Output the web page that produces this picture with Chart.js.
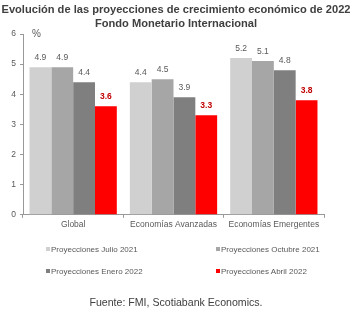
<!DOCTYPE html>
<html>
<head>
<meta charset="utf-8">
<script src="https://cdn.jsdelivr.net/npm/chart.js@4/dist/chart.umd.min.js"></script>
<style>
  body { margin: 0; background: #fff; font-family: "Liberation Sans", Arial, sans-serif; }
  #wrap { position: relative; width: 350px; height: 321px; overflow: hidden; }
  #chart { position: absolute; left: 0; top: 0; }
  #titulo { position: absolute; left: -25px; top: 2px; width: 402px; text-align: center; white-space: nowrap; font-size: 11.1px; font-weight: bold; color: #404040; line-height: 14px; }
  #legend { position: absolute; left: 0; top: 245px; width: 350px; font-size: 8px; color: #595959; }
  .item { position: absolute; white-space: nowrap; }
  .item i { display: inline-block; width: 4px; height: 4px; margin-right: 1px; vertical-align: 1px; }
  #fuente { position: absolute; left: 0; width: 352px; top: 296px; text-align: center; font-size: 10.6px; color: #404040; }
</style>
</head>
<body>
<div id="wrap">
  <canvas id="chart" width="350" height="321"></canvas>
  <div id="titulo">Evolución de las proyecciones de crecimiento económico de 2022<br>Fondo Monetario Internacional</div>
  <div id="legend"></div>
  <div id="fuente">Fuente: FMI, Scotiabank Economics.</div>
</div>
<script>
// datos
const categorias = ['Global', 'Economías Avanzadas', 'Economías Emergentes'];
const series = ['Proyecciones Julio 2021', 'Proyecciones Octubre 2021', 'Proyecciones Enero 2022', 'Proyecciones Abril 2022'];
const julio2021 = [4.9, 4.4, 5.2];
const octubre2021 = [4.9, 4.5, 5.1];
const enero2022 = [4.4, 3.9, 4.8];
const abril2022 = [3.6, 3.3, 3.8];
const colores = ['#d0d0d0', '#a6a6a6', '#7f7f7f', '#ff0000'];

// etiquetas sobre las barras
const etiquetas = {
    id: 'etiquetas',
    afterDatasetsDraw(chart) {
        const ctx = chart.ctx;
        ctx.save();
        ctx.textAlign = 'center';
        ctx.textBaseline = 'bottom';
        chart.data.datasets.forEach((ds, i) => {
            const meta = chart.getDatasetMeta(i);
            const rojo = i === 3;
            ctx.fillStyle = rojo ? '#c00000' : '#595959';
            ctx.font = (rojo ? 'bold ' : '') + '8.5px "Liberation Sans", Arial';
            meta.data.forEach((bar, j) => {
                ctx.fillText(ds.data[j].toFixed(1), bar.x, bar.y - 5);
            });
        });
        // símbolo de porcentaje
        const y = chart.scales.y;
        ctx.fillStyle = '#595959';
        ctx.font = '10px "Liberation Sans", Arial';
        ctx.textAlign = 'left';
        ctx.textBaseline = 'middle';
        ctx.fillText('%', chart.chartArea.left + 9, y.getPixelForValue(6));
        ctx.restore();
    }
};

const ctx = document.getElementById('chart').getContext('2d');
const chart = new Chart(ctx, {
    type: 'bar',
    data: {
        labels: categorias,
        datasets: [julio2021, octubre2021, enero2022, abril2022].map((d, i) => ({
            label: series[i],
            data: d,
            backgroundColor: colores[i],
            barPercentage: 1,
            categoryPercentage: 0.87
        }))
    },
    options: {
        responsive: false,
        animation: false,
        layout: { padding: { left: 4, right: 26, top: 34, bottom: 89 } },
        plugins: {
            legend: { display: false },
            tooltip: { enabled: false },
            title: { display: false }
        },
        scales: {
            x: {
                grid: { offset: true, drawOnChartArea: false, drawTicks: true, tickLength: 3, color: '#999999' },
                border: { color: '#999999' },
                ticks: { color: '#595959', font: { family: '"Liberation Sans", Arial', size: 8.5 }, padding: 2, maxRotation: 0, autoSkip: false }
            },
            y: {
                min: 0,
                max: 6,
                afterFit(scale) { scale.width = 19; },
                ticks: { stepSize: 1, color: '#595959', font: { family: '"Liberation Sans", Arial', size: 8.5 }, padding: 4 },
                grid: { drawOnChartArea: false, tickLength: 3, color: '#999999' },
                border: { color: '#999999' }
            }
        }
    },
    plugins: [etiquetas]
});

// leyenda en dos columnas
const pos = [[46, 0], [216, 0], [46, 22], [216, 22]];
const leyenda = document.getElementById('legend');
series.forEach((s, i) => {
    const el = document.createElement('div');
    el.className = 'item';
    el.style.left = pos[i][0] + 'px';
    el.style.top = pos[i][1] + 'px';
    el.innerHTML = '<i style="background:' + colores[i] + '"></i>' + s;
    leyenda.appendChild(el);
});
</script>
</body>
</html>
